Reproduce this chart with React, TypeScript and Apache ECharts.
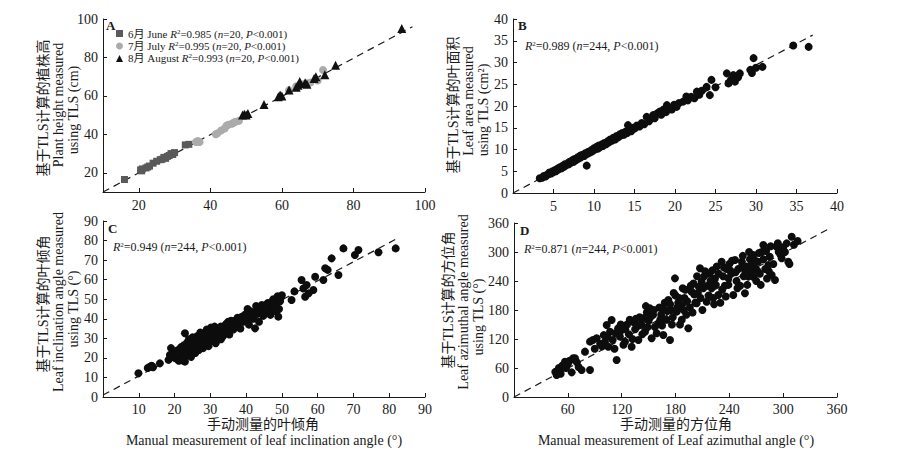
import React, { useEffect, useRef } from "react";
import * as echarts from "echarts";

const FONT = "'Liberation Serif', 'Noto Sans CJK SC', serif";
const INK = "#1a1a1a";

// ---- Panel A: plant height (cm) ----
const juneA: number[][] = [
  [16, 16.5], [20.5, 21.5], [20.8, 21], [21, 22], [22, 22.5], [22.5, 23], [23, 23.5], [24, 25],
  [25, 26], [26, 26.8], [26.5, 27], [27, 28], [27.5, 27.5], [28, 28.5], [28.5, 29], [29, 30],
  [29.5, 29.5], [30, 30.5], [33, 34.5], [34, 34.8],
];
const julyA: number[][] = [
  [36, 36], [36.5, 36.5], [37, 36], [41.5, 40], [42, 40.5], [43, 42], [44, 43], [44.5, 44.5],
  [45, 45], [46, 45.5], [46.5, 46], [47, 46.5], [48, 47], [62, 63], [64, 65], [66, 66],
  [67, 66.5], [68, 67], [70, 68], [71.5, 73.5],
];
const augustA: number[][] = [
  [49, 50], [49.5, 50.5], [50, 50], [50.5, 50.8], [55, 55.5], [59, 59.5], [59.5, 60.5], [60, 60],
  [62, 63], [64, 64.5], [64.5, 65.5], [65, 66.5], [65, 67.5], [66.5, 66.8], [67, 66], [69, 69],
  [69.5, 70], [72, 71], [75, 76], [93.5, 95],
];
const fitA: number[][] = [[10, 10], [96.5, 96]];
const ticksA = [20, 40, 60, 80, 100];

// ---- Panel B: leaf area ----
const pointsB: number[][] = [
  [3.3, 3.4], [3.6, 3.5], [3.8, 3.9], [4.0, 3.8], [4.2, 4.2], [4.4, 4.3], [4.5, 4.7], [4.7, 4.5],
  [4.9, 5.0], [5.0, 4.8], [5.2, 5.3], [5.3, 5.0], [5.5, 5.6], [5.6, 5.4], [5.8, 5.9], [6.0, 5.7],
  [6.1, 6.2], [6.3, 6.0], [6.4, 6.6], [6.6, 6.4], [6.8, 6.9], [6.9, 6.6], [7.0, 7.2], [7.2, 7.0],
  [7.3, 7.5], [7.5, 7.2], [7.6, 7.8], [7.8, 7.6], [8.0, 8.2], [8.1, 7.9], [8.3, 8.6], [8.4, 8.2],
  [8.6, 8.8], [8.8, 8.5], [8.9, 9.1], [9.1, 6.3], [9.2, 9.0], [9.3, 9.5], [9.5, 9.3], [9.7, 9.9],
  [9.8, 9.6], [10.0, 10.3], [10.1, 10.0], [10.3, 10.6], [10.5, 10.2], [10.6, 10.9], [10.8, 10.6],
  [11.0, 11.2], [11.1, 10.8], [11.3, 11.5], [11.5, 11.2], [11.7, 11.9], [11.8, 11.6], [12.0, 12.3],
  [12.2, 12.0], [12.4, 12.7], [12.6, 12.3], [12.8, 13.1], [13.0, 12.8], [13.2, 13.5], [13.3, 13.2],
  [13.5, 13.8], [13.7, 13.4], [13.9, 14.1], [14.1, 13.8], [14.2, 15.6], [14.4, 14.5], [14.6, 14.2],
  [14.8, 15.0], [15.0, 14.8], [15.3, 15.5], [15.6, 15.3], [15.9, 16.1], [16.2, 15.8], [16.5, 17.5],
  [16.8, 16.5], [17.0, 17.1], [17.3, 17.9], [17.5, 17.2], [17.8, 18.3], [18.1, 18.7], [18.3, 18.0],
  [18.6, 19.2], [18.9, 18.6], [19.0, 20.2], [19.3, 19.5], [19.6, 19.2], [19.9, 20.3], [20.2, 19.8],
  [20.5, 20.7], [21.0, 21.0], [21.4, 22.2], [21.6, 21.3], [22.0, 22.1], [22.4, 21.8], [22.7, 23.3],
  [23.0, 22.6], [23.3, 23.5], [23.9, 24.4], [24.3, 22.5], [24.5, 26.0], [25.0, 24.3], [26.4, 27.5],
  [26.6, 25.2], [26.9, 26.0], [27.2, 27.1], [27.4, 25.6], [27.8, 26.6], [28.0, 27.5], [29.3, 28.3],
  [29.5, 27.6], [29.7, 31.0], [30.0, 28.8], [30.8, 29.0], [34.6, 33.9], [36.5, 33.6],
];
const fitB: number[][] = [[0, 0], [37, 36.3]];

// ---- Panel C: leaf inclination angle ----
const pointsC: number[][] = [
  [9.9, 12.1], [12.5, 14.8], [13.1, 15.5], [13.6, 16.0], [14.0, 15.2], [15.9, 17.2], [18.3, 19.0],
  [18.7, 21.5], [19.0, 25.0], [19.5, 23.0], [20.0, 20.0], [20.3, 22.5], [20.6, 19.5], [21.0, 24.0],
  [21.2, 18.5], [21.5, 21.0], [21.8, 25.5], [22.0, 22.8], [22.3, 19.8], [22.6, 26.5], [22.9, 32.6],
  [22.9, 18.1], [23.2, 24.0], [23.5, 27.8], [23.8, 21.5], [24.0, 29.5], [24.2, 25.0], [24.5, 23.0],
  [24.8, 27.0], [25.0, 30.5], [25.2, 24.5], [25.5, 28.0], [25.8, 22.5], [26.0, 26.0], [26.2, 31.0],
  [26.5, 27.5], [26.8, 24.0], [27.0, 29.0], [27.2, 33.0], [27.5, 26.5], [27.8, 30.5], [28.0, 25.0],
  [28.2, 28.0], [28.5, 32.5], [28.8, 27.0], [29.0, 34.5], [29.2, 30.0], [29.5, 26.0], [29.8, 31.5],
  [30.0, 28.5], [30.2, 35.5], [30.5, 33.0], [30.8, 29.0], [31.0, 31.0], [31.2, 36.0], [31.5, 27.5],
  [31.8, 33.5], [32.0, 30.0], [32.3, 35.0], [32.6, 32.0], [33.0, 29.5], [33.3, 34.0], [33.6, 31.5],
  [34.0, 36.5], [34.3, 33.0], [34.6, 35.0], [35.0, 38.5], [35.3, 32.0], [35.6, 36.0], [36.0, 37.5],
  [36.4, 34.5], [36.8, 39.0], [37.2, 36.0], [37.6, 40.5], [38.0, 37.5], [38.4, 35.0], [38.8, 41.0],
  [39.2, 38.5], [39.6, 42.0], [40.0, 39.0], [40.4, 45.0], [40.8, 37.0], [41.2, 41.5], [41.6, 43.5],
  [42.0, 40.0], [42.5, 35.1], [42.8, 46.5], [43.2, 42.5], [43.6, 38.5], [44.0, 44.0], [44.4, 47.0],
  [44.8, 41.5], [45.2, 45.5], [45.6, 43.0], [46.0, 48.0], [46.4, 44.5], [46.8, 42.0], [47.2, 46.0],
  [47.6, 50.0], [48.0, 44.0], [48.4, 47.5], [48.8, 51.5], [49.0, 41.1], [49.2, 45.0], [49.5, 49.0],
  [50.0, 52.0], [52.7, 49.6], [53.5, 54.0], [55.5, 59.8], [56.0, 55.5], [56.5, 51.3], [56.9, 57.3],
  [57.5, 53.0], [58.8, 54.7], [59.3, 61.5], [61.6, 59.8], [62.1, 65.8], [62.8, 65.0], [63.9, 70.9],
  [65.8, 62.4], [67.2, 76.0], [70.4, 72.6], [71.4, 75.2], [77.0, 74.0], [81.8, 76.0],
  [20.5, 23.5], [21.4, 22.5], [22.2, 24.8], [23.0, 21.0], [23.6, 25.5], [24.4, 27.0], [25.1, 26.0],
  [25.6, 29.5], [26.4, 25.0], [26.9, 28.5], [27.4, 31.5], [27.9, 27.8], [28.4, 30.0], [28.9, 32.0],
  [29.4, 28.0], [29.9, 33.5], [30.4, 30.5], [30.9, 34.0], [31.4, 32.5], [31.9, 29.5], [32.4, 33.0],
  [32.9, 36.0], [33.4, 31.0], [33.9, 34.5], [34.5, 37.5], [35.2, 35.0], [35.8, 39.0], [36.6, 36.5],
  [37.4, 38.5], [38.2, 40.0], [39.0, 39.5], [39.8, 40.5], [41.0, 44.0], [42.2, 43.0], [43.4, 45.5],
  [44.6, 43.5], [45.8, 46.5], [47.0, 48.5], [48.2, 46.0], [49.6, 50.5], [19.2, 21.5], [20.8, 21.8],
  [24.6, 20.5], [22.5, 18.5],
];
const fitC: number[][] = [[0, 1], [82.5, 81.3]];

// ---- Panel D: leaf azimuthal angle ----
const pointsD: number[][] = [
  [46, 52], [47.5, 45.5], [50, 60], [51.3, 55.8], [54, 65], [56.8, 73.1], [58, 60], [62, 75],
  [64.3, 51.0], [66, 80], [68, 80], [70, 72], [75.4, 55.8], [79.1, 93.8], [84.7, 55.8], [84.7, 114.5],
  [90, 100], [92.1, 121.4], [96, 110], [100, 128], [101.4, 114.5], [103.3, 148.9], [105.1, 104.1],
  [107, 135], [108.8, 159.3], [110, 118], [112, 100], [114.4, 76.5], [116, 142], [118, 125],
  [120, 138.6], [122, 108], [123.7, 114.5], [126, 150], [128, 130], [131.1, 104.1], [133, 155],
  [135, 140], [138.6, 117.9], [140, 165], [142, 150], [144.1, 162.7], [146, 135], [148, 175],
  [150, 158], [151.6, 183.4], [153.4, 121.4], [155, 170], [157, 145], [160.9, 152.4], [162, 185],
  [164, 170], [166.4, 128.3], [168, 195], [170, 160], [172, 200.7], [173.9, 117.9], [175, 180],
  [177, 165], [179.4, 245.5], [180, 210], [181.3, 176.6], [183, 195], [185, 150], [186.9, 190.3],
  [188, 225], [190, 205], [192, 170], [194.3, 142.1], [196, 185], [198, 217.9], [200, 235],
  [202, 195], [203.6, 193.8], [205, 215], [207.3, 266.2], [209.1, 238.6], [210, 180], [212, 250],
  [214.7, 197.2], [216, 230], [218, 255], [220.3, 224.8], [222, 205], [224, 245], [226, 270],
  [227.7, 211.0], [230, 195], [231.4, 280.0], [233, 250], [235, 230], [237, 265], [238.9, 245.5],
  [240, 275], [242, 255], [244.4, 211.0], [246.3, 283.4], [248, 240], [250, 265], [252, 230],
  [254, 280], [256, 250], [257.4, 214.5], [259, 270], [261.2, 249.0], [263, 285], [265, 260],
  [266.7, 293.8], [268.6, 266.2], [270, 240], [272, 280], [274, 255], [276, 300], [277.9, 314.5],
  [280, 265], [282, 245], [283.5, 273.1], [285, 290], [287.2, 252.4], [290.9, 242.1], [292.7, 311.0],
  [295, 300], [298.3, 286.9], [300, 310], [303.9, 317.9], [305.7, 280.0], [307, 275], [309.5, 331.7],
  [312, 315], [316.1, 322.8],
  [52, 48], [60, 68], [72, 62], [88, 118], [98, 105], [104, 125], [113, 132], [119, 150], [124, 140],
  [129, 160], [132, 120], [136, 162], [139, 148], [143, 130], [147, 188], [149, 145], [152, 165],
  [156, 180], [159, 132], [163, 160], [165, 148], [167, 182], [171, 178], [174, 192], [176, 150],
  [178, 215], [182, 185], [184, 205], [187, 160], [189, 180], [191, 222], [193, 198], [197, 230],
  [199, 175], [201, 212], [204, 250], [206, 228], [208, 205], [211, 225], [213, 260], [217, 210],
  [219, 240], [221, 262], [223, 192], [225, 232], [228, 255], [232, 222], [234, 268], [236, 208],
  [239, 232], [241, 262], [243, 282], [247, 258], [249, 225], [253, 268], [255, 292], [258, 258],
  [260, 232], [262, 300], [264, 272], [267, 248], [269, 282], [271, 262], [273, 298], [275, 232],
  [278, 285], [281, 302], [284, 260], [286, 312], [289, 275], [294, 318], [297, 295], [302, 300],
];
const fitD: number[][] = [[0, 0], [352, 349]];

const legendNames = ["6月 June", "7月 July", "8月 August"];
const legendR2 = ["0.985", "0.995", "0.993"];

const richStyles = {
  t: { fontFamily: FONT, fontSize: 12, color: INK, lineHeight: 12 },
  i: { fontFamily: FONT, fontSize: 12, color: INK, fontStyle: "italic", lineHeight: 12 },
  s: { fontFamily: FONT, fontSize: 7, color: INK, verticalAlign: "top", lineHeight: 12 },
};

const legendRich = {
  t: { fontFamily: FONT, fontSize: 11, color: INK, lineHeight: 11 },
  i: { fontFamily: FONT, fontSize: 11, color: INK, fontStyle: "italic", lineHeight: 11 },
  s: { fontFamily: FONT, fontSize: 7, color: INK, verticalAlign: "top", lineHeight: 11 },
};

function statText(r2: string, n: string) {
  return `{i|R}{s|2}{t|=${r2} (}{i|n}{t|=${n}, }{i|P}{t|<0.001)}`;
}

function axisBase(extra: any) {
  return {
    type: "value",
    axisLine: { show: true, lineStyle: { color: INK, width: 1 } },
    axisTick: { show: true, inside: true, length: 4, lineStyle: { color: INK } },
    axisLabel: { color: INK, fontFamily: FONT, fontSize: 14, margin: 6 },
    splitLine: { show: false },
    ...extra,
  };
}

function fitSeries(data: number[][], idx: number) {
  return {
    type: "line",
    xAxisIndex: idx,
    yAxisIndex: idx,
    data,
    symbol: "none",
    silent: true,
    lineStyle: { color: INK, width: 1.2, type: [7, 5] },
    z: 1,
  };
}

function scatter(data: number[][], idx: number, extra: any = {}) {
  return {
    type: "scatter",
    xAxisIndex: idx,
    yAxisIndex: idx,
    data,
    symbol: "circle",
    symbolSize: 8,
    itemStyle: { color: "#0d0d0d", opacity: 1 },
    z: 3,
    ...extra,
  };
}

function vText(x: number, y: number, text: string) {
  return {
    type: "text",
    x,
    y,
    rotation: Math.PI / 2,
    style: {
      text,
      fontFamily: FONT,
      fontSize: 14,
      fill: INK,
      align: "center",
      verticalAlign: "middle",
    },
  };
}

function hText(x: number, y: number, text: string, size = 14, weight = "normal", align = "center") {
  return {
    type: "text",
    x,
    y,
    style: {
      text,
      fontFamily: FONT,
      fontSize: size,
      fontWeight: weight,
      fill: INK,
      align,
      verticalAlign: "middle",
    },
  };
}

function richText(x: number, y: number, text: string) {
  return {
    type: "text",
    x,
    y,
    style: {
      text,
      rich: richStyles,
      fontFamily: FONT,
      fontSize: 12,
      fill: INK,
      align: "left",
      verticalAlign: "middle",
    },
  };
}

export default function App() {
  const ref = useRef<HTMLDivElement>(null);
  useEffect(() => {
    if (!ref.current) return;
    const chart = echarts.init(ref.current, null, { renderer: "svg" });
    const xl = { color: INK, fontFamily: FONT, fontSize: 14, margin: 5, showMinLabel: false };
    const yl = { color: INK, fontFamily: FONT, fontSize: 14, margin: 5 };
    const option: any = {
      animation: false,
      backgroundColor: "#ffffff",
      grid: [
        { left: 103, top: 19, width: 322, height: 173 },
        { left: 513, top: 19, width: 324, height: 174 },
        { left: 103, top: 221, width: 322, height: 176 },
        { left: 514, top: 223, width: 323, height: 174 },
      ],
      xAxis: [
        axisBase({
          gridIndex: 0, min: 10, max: 100,
          axisTick: { show: true, inside: true, length: 4, lineStyle: { color: INK }, customValues: ticksA },
          axisLabel: { color: INK, fontFamily: FONT, fontSize: 14, margin: 6, customValues: ticksA },
        }),
        axisBase({ gridIndex: 1, min: 0, max: 40, interval: 5, axisLabel: { ...xl, margin: 6 } }),
        axisBase({ gridIndex: 2, min: 0, max: 90, interval: 10, axisLabel: xl }),
        axisBase({ gridIndex: 3, min: 0, max: 360, interval: 60, axisLabel: xl }),
      ],
      yAxis: [
        axisBase({
          gridIndex: 0, min: 10, max: 100,
          axisTick: { show: true, inside: true, length: 4, lineStyle: { color: INK }, customValues: ticksA },
          axisLabel: { ...yl, customValues: ticksA },
        }),
        axisBase({ gridIndex: 1, min: 0, max: 40, interval: 5, axisLabel: yl }),
        axisBase({ gridIndex: 2, min: 0, max: 90, interval: 10, axisLabel: yl }),
        axisBase({ gridIndex: 3, min: 0, max: 360, interval: 60, axisLabel: yl }),
      ],
      legend: {
        orient: "vertical",
        left: 116,
        top: 28,
        itemWidth: 7,
        itemHeight: 7,
        itemGap: 1.5,
        padding: 0,
        data: [
          { name: legendNames[0], icon: "rect", itemStyle: { color: "#5a5a5a" } },
          { name: legendNames[1], icon: "circle", itemStyle: { color: "#ababab" } },
          { name: legendNames[2], icon: "triangle", itemStyle: { color: "#111" } },
        ],
        formatter: (name: string) => {
          const k = legendNames.indexOf(name);
          return `{t|${name} }` + statText(legendR2[k], "20");
        },
        textStyle: { fontFamily: FONT, fontSize: 11, color: INK, rich: legendRich },
      },
      series: [
        fitSeries(fitA, 0),
        scatter(juneA, 0, { name: legendNames[0], symbol: "rect", symbolSize: 7, itemStyle: { color: "#5a5a5a", opacity: 1 } }),
        scatter(julyA, 0, { name: legendNames[1], symbol: "circle", symbolSize: 8, itemStyle: { color: "#ababab", opacity: 1 } }),
        scatter(augustA, 0, { name: legendNames[2], symbol: "triangle", symbolSize: 9, itemStyle: { color: "#111", opacity: 1 } }),
        fitSeries(fitB, 1),
        scatter(pointsB, 1),
        fitSeries(fitC, 2),
        scatter(pointsC, 2),
        fitSeries(fitD, 3),
        scatter(pointsD, 3),
      ],
      graphic: [
        hText(106, 25, "A", 13, "bold", "left"),
        hText(518, 25, "B", 13, "bold", "left"),
        hText(108, 228, "C", 13, "bold", "left"),
        hText(520, 230, "D", 13, "bold", "left"),
        richText(525, 46, statText("0.989", "244")),
        richText(113, 247, statText("0.949", "244")),
        richText(524, 249, statText("0.871", "244")),
        vText(43, 108, "基于TLS计算的植株高"),
        vText(58, 105, "Plant height measured"),
        vText(73, 110, "using TLS (cm)"),
        vText(453, 105, "基于TLS计算的叶面积"),
        vText(468, 101, "Leaf area measured"),
        vText(483, 110, "using TLS (cm²)"),
        vText(43, 304, "基于TLS计算的叶倾角"),
        vText(58, 302, "Leaf inclination angle measured"),
        vText(73, 309, "using TLS (°)"),
        vText(448, 300, "基于TLS计算的方位角"),
        vText(463, 302, "Leaf azimuthal angle measured"),
        vText(478, 317, "using TLS (°)"),
        hText(263, 424, "手动测量的叶倾角"),
        hText(264, 440, "Manual measurement of leaf inclination angle (°)"),
        hText(676, 424, "手动测量的方位角"),
        hText(676, 440, "Manual measurement of Leaf azimuthal angle (°)"),
      ],
    };
    chart.setOption(option);
    return () => chart.dispose();
  }, []);
  return (
    <div
      ref={ref}
      style={{ position: "fixed", left: 0, top: 0, width: 900, height: 452, background: "#fff" }}
    />
  );
}
